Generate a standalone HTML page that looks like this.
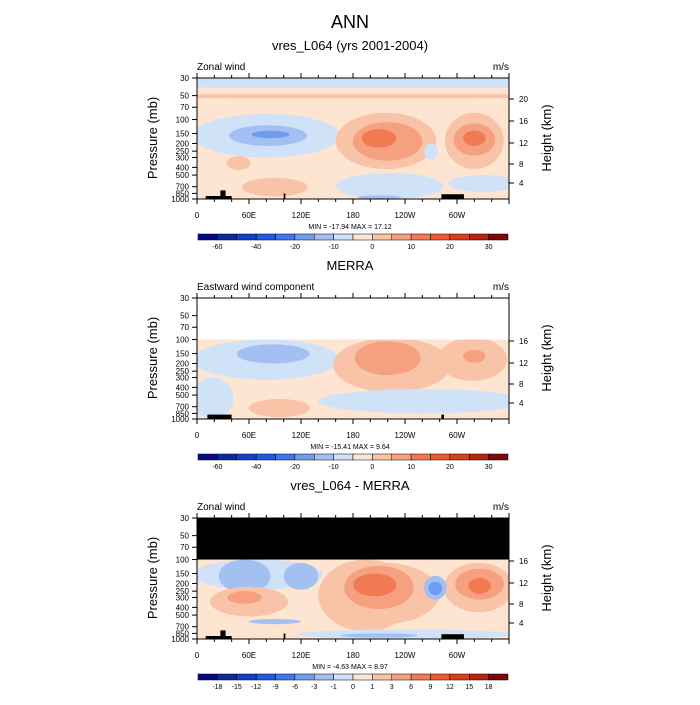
<!DOCTYPE html>
<html><head><meta charset="utf-8"><style>
html,body{margin:0;padding:0;background:#fff;}
svg text{font-family:"Liberation Sans",sans-serif;fill:#000;}
</style></head><body>
<svg id="s" width="700" height="700" viewBox="0 0 700 700" xmlns="http://www.w3.org/2000/svg">
<text x="350" y="28" font-size="18" text-anchor="middle">ANN</text>
</svg>
<script>
const colors=["#0a0a80","#0d2a9a","#1440c8","#1e5ae6","#3d78ee","#6f9cef","#a4c0f2","#cfe2f8","#fde5d2","#f9c3a8","#f5a07e","#f27a52","#ee5a2e","#d8401c","#b8240f","#80080a"];
const cbLabelsA=["-60","-40","-20","-10","0","10","20","30"];
const cbLabelsB=["-18","-15","-12","-9","-6","-3","-1","0","1","3","6","9","12","15","18"];
const pTicks=[30,50,70,100,150,200,250,300,400,500,700,850,1000];
const hTicks=[20,16,12,8,4];
const hTickY=[99,121,143,164,183];
const lonLabels=["0","60E","120E","180","120W","60W"];
// blobs: [lonCenter, lonHalfWidth, pTop, pBottom, colorIndex]
const blobs1=[[180,180,30,40,7],[180,180,48,54,9],[80,85,85,300,7],[82,45,118,215,6],[85,22,138,172,5],
[218,58,82,420,9],[220,40,108,330,10],[210,20,132,225,11],[320,34,82,420,9],[320,24,112,285,10],[320,13,138,215,11],
[222,62,470,1000,7],[330,40,500,820,7],[90,38,540,930,9],[48,14,290,430,9],[270,8,200,320,7],[210,25,900,1000,6]];
const blobs2=[[80,85,100,320,7],[88,42,115,200,6],[225,68,95,460,9],[220,38,105,280,10],[318,40,95,330,9],[320,13,135,195,10],
[260,120,420,850,7],[18,24,300,1000,7],[95,35,560,950,9]];
const blobs3=[[70,75,100,240,7],[55,30,100,260,6],[120,20,110,240,6],[195,55,100,800,9],[215,65,110,650,9],[210,40,120,420,10],[205,25,150,290,11],
[325,40,110,460,9],[326,28,130,320,10],[326,13,170,270,11],[275,13,160,320,6],[275,8,190,280,5],
[60,45,220,520,9],[55,20,250,360,10],[240,125,760,1000,7],[210,45,850,960,6],[90,30,560,650,6]];
const topo1=[[10,40,1000,1000],[27,33,850,1000],[100,102,930,1000],[282,308,950,1000]];
const topo2=[[12,40,960,1000],[282,285,960,1000]];

const S=document.getElementById('s');
const NS="http://www.w3.org/2000/svg";
function mk(tag,attrs,parent){const e=document.createElementNS(NS,tag);for(const k in attrs)e.setAttribute(k,attrs[k]);(parent||S).appendChild(e);return e;}
const X0=197,X1=509;
function xS(lon){return X0+(X1-X0)*lon/360;}
function yS(top,p){return top+121*(1-Math.log(1000/p)/Math.log(1000/30));}

function panel(top,sub,left,blobs,topo,minmax,cbl,white,black,idx){
  const t=mk('text',{x:350,y:top-28,'font-size':13,'text-anchor':'middle'});t.textContent=sub;
  
  
  const l=mk('text',{x:X0,y:top-8,'font-size':10});l.textContent=left;
  
  
  const u=mk('text',{x:X1,y:top-8,'font-size':10,'text-anchor':'end'});u.textContent='m/s';
  
  
  const cid='clip'+idx;
  const cp=mk('clipPath',{id:cid});mk('rect',{x:X0,y:top,width:X1-X0,height:121},cp);
  const g=mk('g',{'clip-path':'url(#'+cid+')'});
  
  
  mk('rect',{x:X0,y:top,width:X1-X0,height:121,fill:colors[8]},g);
  blobs.forEach(b=>{
    const cx=xS(b[0]),rx=(xS(b[1])-X0),y1=yS(top,b[2]),y2=yS(top,b[3]);
    const e=mk('ellipse',{cx:cx,cy:(y1+y2)/2,rx:rx,ry:(y2-y1)/2,fill:colors[b[4]]},g);
    
    
    if(b[1]>=180){e.setAttribute('rx',400);}
  });
  if(white){mk('rect',{x:X0,y:top,width:X1-X0,height:yS(top,100)-top,fill:black?'#000':'#fff'},g);}
  topo.forEach(a=>{const r=mk('rect',{x:xS(a[0]),y:yS(top,a[2])-3,width:xS(a[1])-xS(a[0]),height:yS(top,1000)-yS(top,a[2])+3,fill:'#000'},g);
    
    });
  mk('rect',{x:X0,y:top,width:X1-X0,height:121,fill:'none',stroke:'#000','stroke-width':1});
  pTicks.forEach(p=>{const y=yS(top,p);mk('line',{x1:X0-5,x2:X0,y1:y,y2:y,stroke:'#000'});
    const tt=mk('text',{x:X0-8,y:y+3,'font-size':8,'text-anchor':'end'});tt.textContent=p;
    
    });
  hTicks.forEach((h,i)=>{const y=top+hTickY[i]-78;if(white&&h>16)return;
    mk('line',{x1:X1,x2:X1+5,y1:y,y2:y,stroke:'#000'});
    const tt=mk('text',{x:X1+10,y:y+3,'font-size':8});tt.textContent=h;
    
    });
  for(let lon=0;lon<=360;lon+=20){const x=xS(lon),L=lon%60==0?5:3;
    mk('line',{x1:x,x2:x,y1:top+121,y2:top+121+L,stroke:'#000'});
    mk('line',{x1:x,x2:x,y1:top,y2:top-L,stroke:'#000'});}
  lonLabels.forEach((s,i)=>{const tt=mk('text',{x:xS(i*60),y:top+140,'font-size':8,'text-anchor':'middle'});tt.textContent=s;
    
    });
  const yl=mk('text',{x:0,y:0,'font-size':13,'text-anchor':'middle',transform:`translate(157,${top+60}) rotate(-90)`});yl.textContent='Pressure (mb)';
  
  
  const yr=mk('text',{x:0,y:0,'font-size':13,'text-anchor':'middle',transform:`translate(551,${top+60}) rotate(-90)`});yr.textContent='Height (km)';
  
  
  const mm=mk('text',{x:350,y:top+151,'font-size':7,'text-anchor':'middle'});mm.textContent=minmax;
  
  
  const cb=mk('g',{});
  
  
  const bw=(508-198)/16,cy=top+156;
  colors.forEach((c,i)=>mk('rect',{x:198+i*bw,y:cy,width:bw,height:6,fill:c,stroke:'#000','stroke-width':0.5},cb));
  cbl.forEach((s,i)=>{const k=cbl.length==8?2*i+1:i+1;const tt=mk('text',{x:198+k*bw,y:cy+15,'font-size':7,'text-anchor':'middle'},cb);tt.textContent=s;});
}
panel(78,'vres_L064 (yrs 2001-2004)','Zonal wind',blobs1,topo1,'MIN = -17.94  MAX =  17.12',cbLabelsA,false,false,1);
panel(298,'MERRA','Eastward wind component',blobs2,topo2,'MIN = -15.41  MAX =   9.64',cbLabelsA,true,false,2);
panel(518,'vres_L064 - MERRA','Zonal wind',blobs3,topo1,'MIN =  -4.63  MAX =   8.97',cbLabelsB,true,true,3);
</script>
</body></html>
